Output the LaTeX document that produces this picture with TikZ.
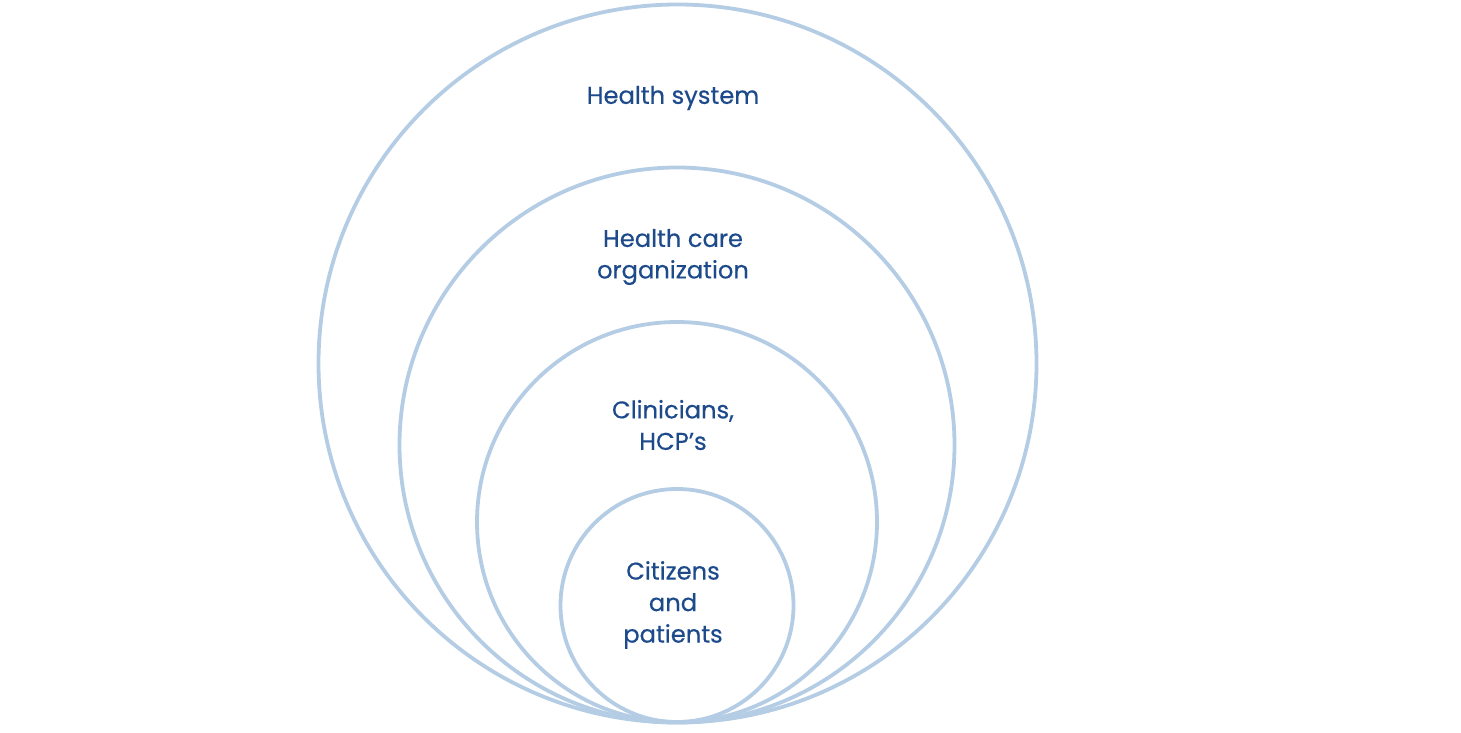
\documentclass[tikz,border=0pt]{standalone}
\usepackage{fontspec}
\setmainfont{Poppins}[FakeBold=0.4,BoldFont=Poppins]
\definecolor{ringblue}{HTML}{B4CDE4}
\definecolor{textblue}{HTML}{1C4A8A}
\begin{document}
\begin{tikzpicture}[
x=1pt,y=-1pt,
font=\fontsize{24.2}{31.5}\selectfont\bfseries,
ring/.style={circle,draw=ringblue,line width=3.8pt,inner sep=0pt},
label/.style={text=textblue,align=center,inner sep=0pt}
]
\useasboundingbox (0,0) rectangle (1461,733);

\node[ring,minimum size=718pt] (health) at (677.5,363.5) {};
\node[ring,minimum size=555pt] (care) at (677,445) {};
\node[ring,minimum size=400pt] (clin) at (677,522) {};
\node[ring,minimum size=233pt] (citz) at (677,605.5) {};

\node[label] (lhealth) at (673,98) {Health system};
\node[label] (lcare) at (673,257) {Health care\\organization};
\node[label] (lclin) at (673,425) {Clinicians,\\HCP’s};
\node[label] (lcitz) at (673,605) {Citizens\\and\\patients};
\end{tikzpicture}
\end{document}
